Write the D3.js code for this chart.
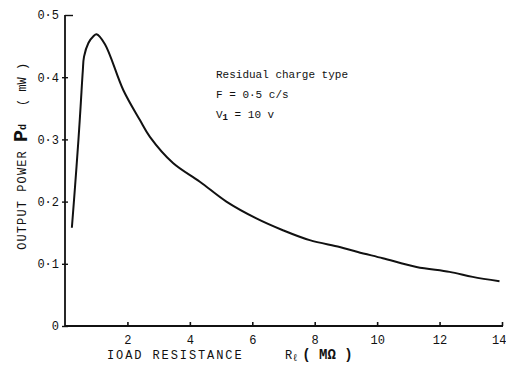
<!DOCTYPE html>
<html>
<head>
<meta charset="utf-8">
<script src="https://cdn.jsdelivr.net/npm/d3@7"></script>
<style>
  html, body { margin: 0; padding: 0; background: #fff; }
  svg text { font-family: "Liberation Mono", "DejaVu Sans Mono", monospace; fill: #111; }
</style>
</head>
<body>
<svg id="chart" width="506" height="368"></svg>
<script>
// Load resistance (MΩ) and measured output power (mW)
const resistance = [0.22, 0.32, 0.43, 0.50, 0.57, 0.61, 0.75, 0.91, 1.01, 1.28, 1.87, 2.40, 2.72, 3.46, 4.32, 5.17, 6.13, 6.98, 7.84, 8.80, 9.38, 10.18, 11.26, 12.32, 13.06, 13.92];
const power      = [0.158, 0.223, 0.299, 0.353, 0.410, 0.433, 0.455, 0.466, 0.469, 0.453, 0.379, 0.331, 0.304, 0.262, 0.232, 0.200, 0.173, 0.154, 0.138, 0.127, 0.119, 0.109, 0.095, 0.087, 0.079, 0.072];

const xTicks = [2, 4, 6, 8, 10, 12, 14];
const yTicks = [0, 0.1, 0.2, 0.3, 0.4, 0.5];
const notes = ["Residual charge type", "F = 0·5 c/s"];

const svg = d3.select("#chart");
const x = d3.scaleLinear().domain([0, 14]).range([65, 502]);
const y = d3.scaleLinear().domain([0, 0.5]).range([326, 15]);

const fmtY = v => v === 0 ? "0" : d3.format(".1f")(v).replace(".", "·");

// x axis
const xAxis = d3.axisBottom(x).tickValues(xTicks).tickSize(-4).tickPadding(9).tickFormat(d3.format("d"));
const gx = svg.append("g").attr("transform", `translate(0,${y(0)})`).call(xAxis);
gx.select(".domain").attr("stroke", "#111").attr("stroke-width", 1.8).attr("d", `M${x(0)},0H${x(14) + 1}`);
gx.selectAll(".tick line").attr("stroke", "#111").attr("stroke-width", 1.6);
gx.selectAll(".tick text").attr("font-size", 12).attr("font-family", "Liberation Mono, monospace").attr("fill", "#111")
  .attr("text-anchor", d => d === 14 ? "end" : "middle")
  .attr("x", d => d === 14 ? 4 : 0);

// y axis
const yAxis = d3.axisLeft(y).tickValues(yTicks).tickSize(3).tickPadding(3).tickFormat(fmtY);
const gy = svg.append("g").attr("transform", `translate(${x(0)},0)`).call(yAxis);
gy.select(".domain").attr("stroke", "#111").attr("stroke-width", 1.8).attr("d", `M0,${y(0)}V${y(0.5)}`);
gy.selectAll(".tick line").attr("stroke", "#111").attr("stroke-width", 1.4)
  .attr("x1", d => d === 0.5 ? 8 : 3).attr("x2", d => d === 0.5 ? 0 : -3);
gy.selectAll(".tick text").attr("font-size", 12).attr("font-family", "Liberation Mono, monospace").attr("fill", "#111")
  .attr("x", -6);

// power curve
const pts = resistance.map((r, i) => [r, power[i]]);
const line = d3.line().x(d => x(d[0])).y(d => y(d[1])).curve(d3.curveCatmullRom.alpha(0.5));
svg.append("path").datum(pts).attr("d", line)
  .attr("fill", "none").attr("stroke", "#111").attr("stroke-width", 2).attr("stroke-linejoin", "round");

// axis titles
svg.append("text").attr("x", 107).attr("y", 359).attr("font-size", 12).attr("letter-spacing", 1.9).text("IOAD RESISTANCE");
const rl = svg.append("text").attr("x", 285).attr("y", 359).attr("font-size", 12);
rl.append("tspan").text("R");
rl.append("tspan").attr("font-size", 10).attr("dy", 2).text("ℓ");
rl.append("tspan").attr("dy", -2).attr("dx", 4).attr("font-size", 14).attr("font-weight", "bold").text("( MΩ )");

const yl = svg.append("g").attr("transform", "translate(26,200) rotate(-90)");
yl.append("text").attr("x", 0).attr("y", 0).attr("text-anchor", "middle").attr("font-size", 12)
  .attr("letter-spacing", 1.1).text("OUTPUT POWER");
const pd = yl.append("text").attr("x", 58).attr("y", 1).attr("font-size", 20).attr("font-weight", "bold")
  .attr("font-family", "DejaVu Sans, sans-serif");
pd.append("tspan").text("P");
pd.append("tspan").attr("font-size", 10).attr("dy", -1).text("d");
yl.append("text").attr("x", 94).attr("y", 0).attr("font-size", 12).text("( mW )");

// operating conditions
const ng = svg.append("g").attr("font-size", 11);
ng.append("text").attr("x", 216).attr("y", 78).text(notes[0]);
ng.append("text").attr("x", 216).attr("y", 98).text(notes[1]);
const vt = ng.append("text").attr("x", 216).attr("y", 118);
vt.append("tspan").text("V");
vt.append("tspan").attr("font-size", 9).attr("font-weight", "bold").attr("dy", 2).text("1");
vt.append("tspan").attr("dy", -2).text(" = 10 v");
</script>
</body>
</html>
